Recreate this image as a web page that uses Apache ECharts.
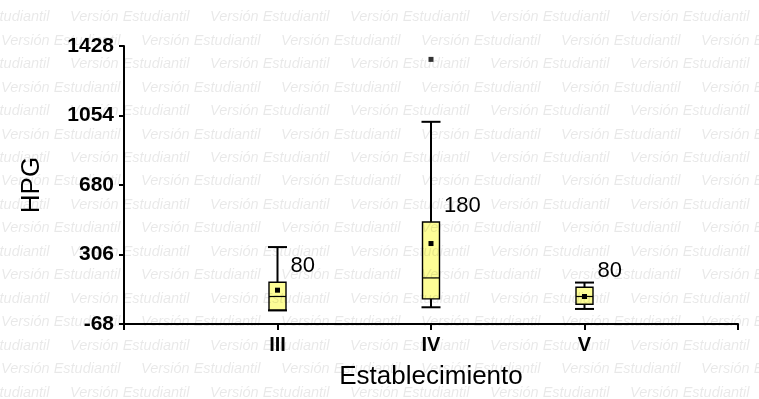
<!DOCTYPE html>
<html>
<head>
<meta charset="utf-8">
<script src="https://cdn.jsdelivr.net/npm/echarts@6/dist/echarts.min.js"></script>
<style>
  html, body { margin: 0; padding: 0; background: #fff; }
  #chart { width: 759px; height: 399px; }
</style>
</head>
<body>
<div id="chart"></div>
<script>
// Categories on the x axis (blank slots pad both ends of the axis)
const categories = ['', 'III', 'IV', 'V', ''];
// Box statistics per establishment
const boxCats  = [1, 2, 3];
const minVals  = [5, 22, 13];
const q1Vals   = [8, 67, 38];
const medians  = [80, 180, 80];
const q3Vals   = [157, 481, 130];
const maxVals  = [346, 1020, 155];
const means    = [114, 365, 80];
// Outlying observations
const outliers = [[2, 1356]];
// Y axis tick values
const yTicks = [-68, 306, 680, 1054, 1428];

const FONT = 'Liberation Sans, Arial, sans-serif';

const boxData = boxCats.map((c, i) =>
  [c, minVals[i], q1Vals[i], medians[i], q3Vals[i], maxVals[i], means[i]]);

function renderBox(params, api) {
  const c = api.value(0);
  const pMin = api.coord([c, api.value(1)]);
  const pQ1 = api.coord([c, api.value(2)]);
  const pMed = api.coord([c, api.value(3)]);
  const pQ3 = api.coord([c, api.value(4)]);
  const pMax = api.coord([c, api.value(5)]);
  const pMean = api.coord([c, api.value(6)]);
  const x = pMed[0];
  const bw = 8.5, cw = 9.5;
  const line = { stroke: '#000', lineWidth: 2 };
  const thin = { stroke: '#000', lineWidth: 1.2 };
  return {
    type: 'group',
    children: [
      { type: 'line', shape: { x1: x, y1: pMax[1], x2: x, y2: pQ3[1] }, style: line },
      { type: 'line', shape: { x1: x - cw, y1: pMax[1], x2: x + cw, y2: pMax[1] }, style: line },
      { type: 'line', shape: { x1: x, y1: pQ1[1], x2: x, y2: pMin[1] }, style: line },
      { type: 'line', shape: { x1: x - cw, y1: pMin[1], x2: x + cw, y2: pMin[1] }, style: line },
      { type: 'rect', shape: { x: x - bw, y: pQ3[1], width: bw * 2, height: pQ1[1] - pQ3[1] },
        style: { fill: '#fdfd96', stroke: '#000', lineWidth: 1.4 } },
      { type: 'line', shape: { x1: x - bw, y1: pMed[1], x2: x + bw, y2: pMed[1] }, style: thin },
      { type: 'rect', shape: { x: x - 2.5, y: pMean[1] - 2.5, width: 5, height: 5 },
        style: { fill: '#000' } },
      { type: 'text', x: x + 13, y: pQ3[1] - 16,
        style: { text: String(api.value(3)), fill: '#000', font: '22px ' + FONT,
                 align: 'left', verticalAlign: 'middle' } }
    ]
  };
}

// "Versión Estudiantil" watermark rows across the whole canvas
const watermark = [];
for (let r = 0; r < 17; r++) {
  const y = 17.3 + r * 23.45;
  const start = (r % 2 === 0) ? -70 : -139;
  for (let x = start; x < 759; x += 140) {
    watermark.push({
      type: 'text', x: x, y: y, z: 100, silent: true,
      style: { text: 'Versión Estudiantil', fill: 'rgba(0,0,0,0.09)',
               font: 'italic 14.5px ' + FONT, verticalAlign: 'middle' }
    });
  }
}

const chart = echarts.init(document.getElementById('chart'), null, { renderer: 'canvas' });
chart.setOption({
  animation: false,
  backgroundColor: '#fff',
  grid: { left: 124, right: 21, top: 46, bottom: 75 },
  xAxis: {
    type: 'category',
    data: categories,
    boundaryGap: false,
    name: 'Establecimiento',
    nameLocation: 'middle',
    nameGap: 40,
    nameTextStyle: { fontFamily: FONT, fontSize: 26, color: '#000' },
    axisLine: { onZero: false, lineStyle: { color: '#000', width: 2 } },
    axisTick: { show: true, length: 6, interval: 0, lineStyle: { color: '#000', width: 2 } },
    axisLabel: { interval: 0, margin: 11, fontFamily: FONT, fontSize: 20,
                 fontWeight: 'bold', color: '#000' },
    splitLine: { show: false }
  },
  yAxis: {
    type: 'value',
    min: -68,
    max: 1428,
    name: 'HPG',
    nameLocation: 'middle',
    nameGap: 79,
    nameRotate: 90,
    nameTextStyle: { fontFamily: FONT, fontSize: 26, color: '#000', padding: [0, 0, 0, 0] },
    axisLine: { show: true, lineStyle: { color: '#000', width: 2 } },
    axisTick: { show: true, length: 5, customValues: yTicks, lineStyle: { color: '#000', width: 2 } },
    axisLabel: { customValues: yTicks, margin: 10, fontFamily: FONT, fontSize: 21,
                 fontWeight: 'bold', color: '#000', formatter: v => String(v) },
    splitLine: { show: false }
  },
  series: [
    {
      type: 'custom',
      renderItem: renderBox,
      data: boxData,
      encode: { x: 0, y: [1, 2, 3, 4, 5, 6] },
      z: 5
    },
    {
      type: 'scatter',
      data: outliers,
      symbol: 'rect',
      symbolSize: 5,
      itemStyle: { color: '#000' },
      z: 6
    }
  ],
  graphic: watermark
});
</script>
</body>
</html>
